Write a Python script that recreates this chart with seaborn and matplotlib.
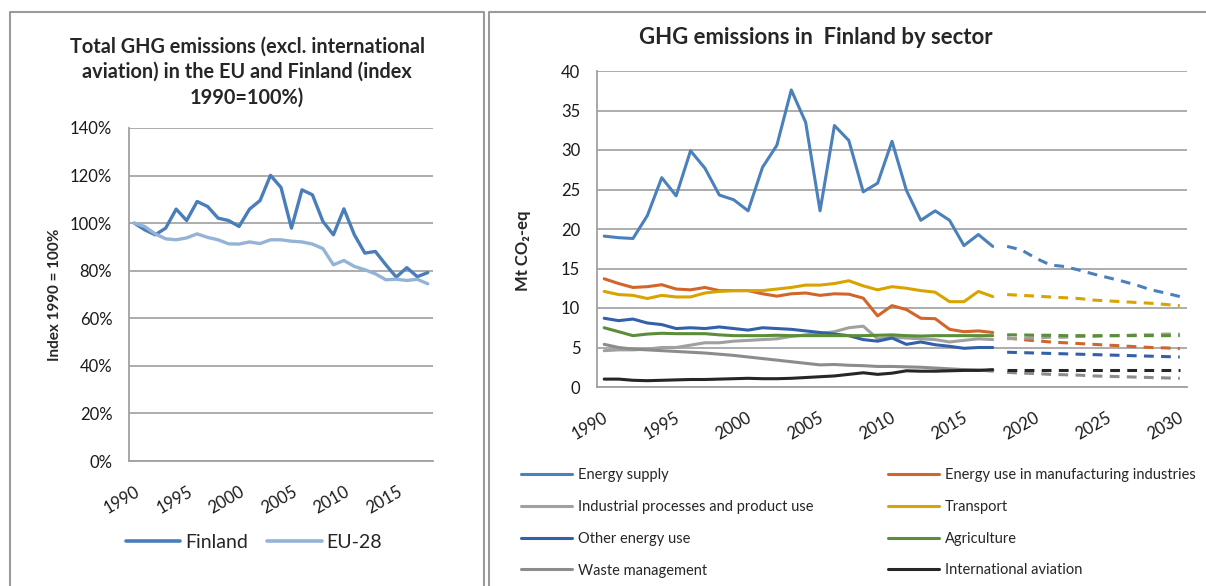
import matplotlib
matplotlib.use('Agg')
import matplotlib.pyplot as plt
import matplotlib.transforms as mtransforms
import seaborn as sns
import pandas as pd
from matplotlib.lines import Line2D

# ---- left chart data: index 1990 = 100 %
idx_years = list(range(1990, 2019))
finland = [100, 97.2, 95.1, 97.9, 105.9, 101.1, 109.1, 107.0, 102.1, 101.1,
           98.6, 105.9, 109.5, 120.1, 115.0, 97.9, 114.0, 111.9, 100.7, 95.1,
           106.0, 95.1, 87.4, 88.1, 82.5, 77.3, 81.3, 77.5, 79.2]
eu28 = [100, 98.6, 95.5, 93.4, 93.0, 93.8, 95.5, 94.0, 93.0, 91.3,
        91.2, 92.1, 91.4, 93.0, 93.0, 92.4, 92.1, 91.2, 89.3, 82.5,
        84.3, 81.8, 80.4, 78.7, 76.2, 76.4, 75.9, 76.4, 74.5]

# ---- right chart data: Mt CO2-eq by sector
hist_years = list(range(1990, 2018))
proj_years = list(range(2018, 2031))

energy_supply = [19.1, 18.9, 18.8, 21.7, 26.5, 24.2, 29.9, 27.7, 24.3, 23.7,
                 22.3, 27.8, 30.6, 37.6, 33.5, 22.3, 33.1, 31.2, 24.7, 25.8,
                 31.1, 24.9, 21.1, 22.3, 21.1, 17.9, 19.3, 17.8]
energy_supply_proj = [17.8, 17.35, 16.3, 15.45, 15.25, 14.8, 14.3, 13.85, 13.4,
                      12.9, 12.3, 11.9, 11.45]
manufacturing = [13.7, 13.1, 12.6, 12.7, 12.95, 12.4, 12.3, 12.6, 12.2, 12.2,
                 12.2, 11.8, 11.5, 11.8, 11.9, 11.6, 11.8, 11.75, 11.25, 9.0,
                 10.3, 9.8, 8.7, 8.65, 7.3, 7.0, 7.1, 6.9]
manufacturing_proj = [6.2, 6.0, 5.85, 5.7, 5.6, 5.5, 5.4, 5.3, 5.2, 5.1, 5.0, 4.95, 4.85]
industrial = [4.6, 4.7, 4.7, 4.8, 5.0, 5.0, 5.3, 5.6, 5.6, 5.8,
              5.9, 6.0, 6.1, 6.4, 6.6, 6.8, 7.0, 7.5, 7.7, 6.1,
              6.3, 6.2, 6.1, 6.0, 5.7, 5.9, 6.1, 6.0]
industrial_proj = [6.1, 6.2, 6.2, 6.3, 6.3, 6.4, 6.4, 6.5, 6.5, 6.6, 6.6, 6.7, 6.7]
transport = [12.1, 11.7, 11.6, 11.2, 11.6, 11.4, 11.4, 11.9, 12.1, 12.2,
             12.2, 12.2, 12.4, 12.6, 12.9, 12.9, 13.1, 13.45, 12.8, 12.3,
             12.7, 12.5, 12.2, 12.0, 10.8, 10.8, 12.1, 11.45]
transport_proj = [11.7, 11.6, 11.5, 11.4, 11.3, 11.2, 11.0, 10.9, 10.8, 10.7, 10.6, 10.45, 10.3]
other_energy = [8.7, 8.4, 8.6, 8.1, 7.9, 7.4, 7.5, 7.4, 7.6, 7.4,
                7.2, 7.5, 7.4, 7.3, 7.1, 6.9, 6.7, 6.5, 6.0, 5.8,
                6.2, 5.4, 5.7, 5.35, 5.15, 4.9, 5.0, 5.0]
other_energy_proj = [4.4, 4.35, 4.3, 4.25, 4.2, 4.15, 4.1, 4.05, 4.0, 3.95, 3.9, 3.85, 3.8]
agriculture = [7.5, 7.0, 6.5, 6.7, 6.8, 6.75, 6.75, 6.75, 6.6, 6.5,
               6.5, 6.5, 6.55, 6.5, 6.5, 6.5, 6.5, 6.5, 6.5, 6.55,
               6.6, 6.5, 6.45, 6.5, 6.5, 6.5, 6.5, 6.5]
agriculture_proj = [6.6, 6.6, 6.55, 6.55, 6.5, 6.5, 6.5, 6.5, 6.5, 6.5, 6.5, 6.5, 6.5]
waste = [5.4, 5.0, 4.8, 4.7, 4.6, 4.5, 4.4, 4.3, 4.15, 4.0,
         3.8, 3.6, 3.4, 3.2, 3.0, 2.8, 2.85, 2.75, 2.7, 2.6,
         2.6, 2.55, 2.5, 2.4, 2.3, 2.2, 2.15, 2.0]
waste_proj = [1.85, 1.75, 1.7, 1.6, 1.55, 1.5, 1.4, 1.35, 1.3, 1.25, 1.2, 1.15, 1.1]
aviation = [1.0, 1.0, 0.85, 0.8, 0.85, 0.9, 0.95, 0.95, 1.0, 1.05,
            1.1, 1.05, 1.05, 1.1, 1.2, 1.3, 1.4, 1.6, 1.8, 1.6,
            1.75, 2.05, 2.0, 2.0, 2.05, 2.1, 2.1, 2.2]
aviation_proj = [2.1] * 13

sectors = ["Energy supply", "Energy use in manufacturing industries",
           "Industrial processes and product use", "Transport",
           "Other energy use", "Agriculture", "Waste management",
           "International aviation"]
hist_series = [energy_supply, manufacturing, industrial, transport,
               other_energy, agriculture, waste, aviation]
proj_series = [energy_supply_proj, manufacturing_proj, industrial_proj, transport_proj,
               other_energy_proj, agriculture_proj, waste_proj, aviation_proj]
sector_colors = ["#4a80bb", "#d2652a", "#a0a0a0", "#d9a300",
                 "#3360aa", "#5c8d3a", "#8c8c8c", "#262626"]

sns.set_style("white")
plt.rcParams['font.family'] = ['Lato', 'DejaVu Sans']

W, H = 1206, 586
fig = plt.figure(figsize=(W / 100, H / 100), dpi=100)

def px_axes(x0, x1, y_top, y_bot):
    return fig.add_axes([x0 / W, 1 - y_bot / H, (x1 - x0) / W, (y_bot - y_top) / H])

grid_c = "#a6a6a6"
ax_c = "#a0a0a0"

def style_axes(ax):
    for s in ["top", "right"]:
        ax.spines[s].set_visible(False)
    for s in ["left", "bottom"]:
        ax.spines[s].set_color(ax_c)
        ax.spines[s].set_linewidth(1.3)
    ax.grid(axis="y", color=grid_c, lw=1.3)
    ax.grid(axis="x", visible=False)
    ax.set_axisbelow(True)
    ax.tick_params(axis="both", which="both", direction="out", color=ax_c,
                   width=1.2, length=5, labelsize=12, labelcolor="#1a1a1a")
    ax.tick_params(axis="y", pad=7)
    ax.tick_params(axis="x", pad=11)
    ax.set_xlabel("")
    shift = mtransforms.ScaledTranslation(4 / 72, 0, fig.dpi_scale_trans)
    for lab in ax.get_xticklabels():
        lab.set_transform(lab.get_transform() + shift)

# ---------------- left chart ----------------
axl = px_axes(129, 433, 128, 461)
df_idx = pd.DataFrame({"year": idx_years * 2,
                       "value": finland + eu28,
                       "series": ["Finland"] * len(idx_years) + ["EU-28"] * len(idx_years)})
sns.lineplot(data=df_idx, x="year", y="value", hue="series",
             palette={"Finland": "#4a7ebb", "EU-28": "#95b3d7"},
             lw=2.4, ax=axl, legend=False)
axl.set_xlim(1989.5, 2018.5)
axl.set_ylim(0, 140)
axl.set_yticks(range(0, 141, 20))
axl.set_yticklabels([f"{v}%" for v in range(0, 141, 20)])
axl.set_xticks([y - 0.5 for y in range(1990, 2016, 5)])
axl.set_xticklabels([str(y) for y in range(1990, 2016, 5)], rotation=30,
                    ha="right", rotation_mode="anchor")
axl.set_xticks([y - 0.5 for y in range(1990, 2020)], minor=True)
style_axes(axl)
axl.set_ylabel("Index 1990 = 100%", fontsize=11, fontweight="bold")
axl.yaxis.set_label_coords(-0.22, 0.5)
fig.text(247 / W, 1 - 72 / H,
         "Total GHG emissions (excl. international\naviation) in the EU and Finland (index\n1990=100%)",
         ha="center", va="center", fontsize=14.3, fontweight="bold", linespacing=1.33)
leg_handles = [Line2D([], [], color="#4a7ebb", lw=2.6), Line2D([], [], color="#95b3d7", lw=2.6)]
fig.legend(leg_handles, ["Finland", "EU-28"], loc="center", ncol=2,
           bbox_to_anchor=(254 / W, 1 - 542 / H), frameon=False, fontsize=14,
           handlelength=2.8, handletextpad=0.25, columnspacing=1.0)

# ---------------- right chart ----------------
axr = px_axes(597, 1187, 71, 387)
for name, hist, proj, col in zip(sectors, hist_series, proj_series, sector_colors):
    sns.lineplot(x=hist_years, y=hist, color=col, lw=2.2, ax=axr, label=name)
    sns.lineplot(x=proj_years, y=proj, color=col, lw=2.2, ax=axr)
    axr.lines[-1].set_linestyle((0, (3.2, 2.4)))
axr.get_legend().remove()
axr.set_xlim(1989.5, 2030.5)
axr.set_ylim(0, 40)
axr.set_yticks(range(0, 41, 5))
axr.set_xticks([y - 0.5 for y in range(1990, 2031, 5)])
axr.set_xticklabels([str(y) for y in range(1990, 2031, 5)], rotation=30,
                    ha="right", rotation_mode="anchor")
style_axes(axr)
axr.set_ylabel("Mt CO\u2082-eq", fontsize=12, fontweight="bold")
axr.yaxis.set_label_coords(-0.112, 0.43)
fig.text(816 / W, 1 - 38 / H, "GHG emissions in  Finland by sector",
         ha="center", va="center", fontsize=15.9, fontweight="bold")

order = [0, 2, 4, 6, 1, 3, 5, 7]
handles = [Line2D([], [], color=sector_colors[i], lw=2.2) for i in order]
labels = [sectors[i] for i in order]
fig.legend(handles, labels, loc="upper left", ncol=2,
           bbox_to_anchor=(508 / W, 1 - 455 / H), frameon=False, fontsize=10.5,
           handlelength=3.5, handletextpad=0.4, columnspacing=5.1,
           labelspacing=1.22)

# panel frames
frame_c = "#9a9a9a"
fig.add_artist(Line2D([10 / W, 10 / W, 484 / W, 484 / W],
                      [0, 1 - 12 / H, 1 - 12 / H, 0], color=frame_c, lw=1.5))
fig.add_artist(Line2D([489 / W, 489 / W, 1],
                      [0, 1 - 12 / H, 1 - 12 / H], color=frame_c, lw=1.5))

fig.savefig("out.png", dpi=100, facecolor="white")
